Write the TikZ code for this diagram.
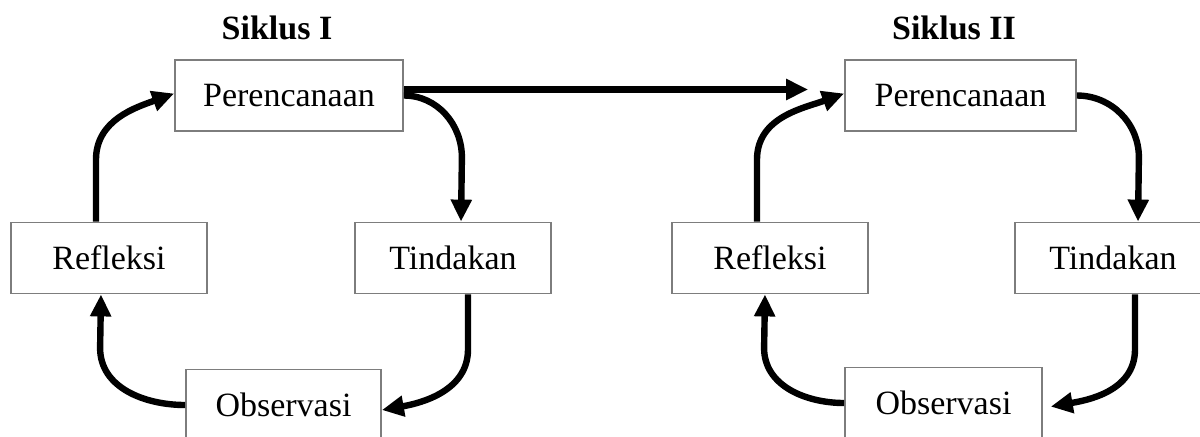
\documentclass[tikz,border=0pt]{standalone}
\usepackage{fontspec}
\setmainfont{Liberation Serif}
\usetikzlibrary{arrows.meta}
\definecolor{boxgray}{RGB}{125,125,125}
\begin{document}
\begin{tikzpicture}[x=0.5pt,y=0.5pt,
  box/.style={draw=boxgray, line width=0.9pt, fill=white, minimum height=35.5pt, inner sep=0pt, font=\fontsize{17}{20}\selectfont},
  ttl/.style={font=\bfseries\fontsize{17}{20}\selectfont},
  conn/.style={line width=3.2pt, -{Triangle[length=11pt,width=10pt]}}]
\clip (0,0) rectangle (1200,-436);
% Siklus I
\node[ttl] (S1) at (277,-28) {Siklus I};
\node[box, minimum width=114pt] (P1) at (289,-95.5) {Perencanaan};
\node[box, minimum width=98pt] (R1) at (109,-258) {Refleksi};
\node[box, minimum width=98pt] (T1) at (453,-258) {Tindakan};
\node[box, minimum width=97.5pt] (O1) at (283.5,-405) {Observasi};
% Siklus II
\node[ttl] (S2) at (954,-28) {Siklus II};
\node[box, minimum width=115.5pt] (P2) at (960.5,-95.5) {Perencanaan};
\node[box, minimum width=98pt] (R2) at (770,-258) {Refleksi};
\node[box, minimum width=98pt] (T2) at (1113,-258) {Tindakan};
\node[box, minimum width=98.5pt] (O2) at (943.5,-403) {Observasi};
% connectors cycle I
\draw[conn] ([xshift=-6.5pt]R1.north) -- ++(0,62) to[out=90,in=200] ([yshift=1pt]P1.west);
\draw[conn] (P1.east) to[out=0,in=90] ++(58,-62) -- ([xshift=4pt]T1.north);
\draw[conn] ([xshift=7.5pt]T1.south) -- ++(0,-55) to[out=-90,in=10] ([yshift=-2.5pt]O1.east);
\draw[conn] (O1.west) to[out=180,in=-90] ++(-85,57) -- ([xshift=-4pt]R1.south);
% link
\draw[conn, shorten >=18pt] ([yshift=3pt]P1.east) -- ([yshift=3pt]P2.west);
% connectors cycle II
\draw[conn] ([xshift=-6.5pt]R2.north) -- ++(0,62) to[out=90,in=200] ([yshift=1pt]P2.west);
\draw[conn] (P2.east) to[out=0,in=90] ++(62,-62) -- ([xshift=12.5pt]T2.north);
\draw[conn, shorten >=4pt] ([xshift=11pt]T2.south) -- ++(0,-55) to[out=-90,in=10] ([yshift=-2.5pt]O2.east);
\draw[conn] (O2.west) to[out=180,in=-90] ++(-80,55) -- ([xshift=-2.5pt]R2.south);
\end{tikzpicture}
\end{document}
